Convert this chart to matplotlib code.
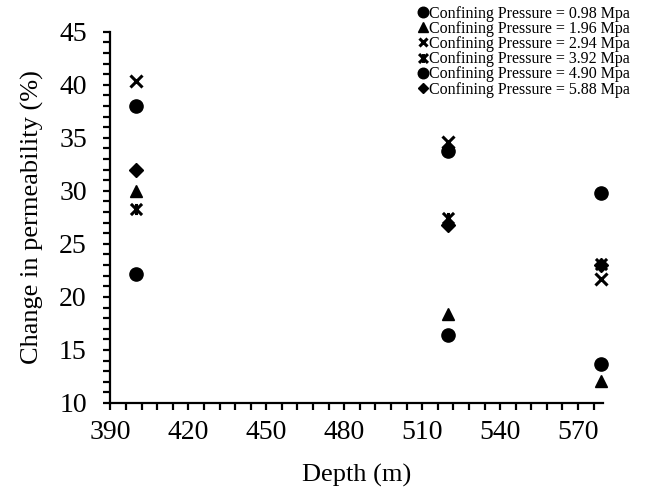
import numpy as np
import matplotlib
matplotlib.use("Agg")
import matplotlib.pyplot as plt
from matplotlib.path import Path
from matplotlib.ticker import MultipleLocator

plt.rcParams["font.family"] = ["Liberation Serif", "DejaVu Serif"]

# Data
depth = [400, 520, 579]
labels = [
    "Confining Pressure = 0.98 Mpa",
    "Confining Pressure = 1.96 Mpa",
    "Confining Pressure = 2.94 Mpa",
    "Confining Pressure = 3.92 Mpa",
    "Confining Pressure = 4.90 Mpa",
    "Confining Pressure = 5.88 Mpa",
]
cp_098 = [38.0, 33.8, 29.8]
cp_196 = [30.0, 18.4, 12.1]
cp_294 = [40.4, 34.6, 21.7]
cp_392 = [28.3, 27.4, 23.1]
cp_490 = [22.2, 16.4, 13.7]
cp_588 = [32.0, 26.8, 23.0]

# Excel-like "star" marker: an x with a vertical bar through it
star = Path(
    [(-1, -1), (1, 1), (-1, 1), (1, -1), (0, -1), (0, 1)],
    [Path.MOVETO, Path.LINETO, Path.MOVETO, Path.LINETO, Path.MOVETO, Path.LINETO],
)

series = [
    (cp_098, "o", 9.5, 1),
    (cp_196, "^", 9.0, 1),
    (cp_294, "x", 8.0, 2.2),
    (cp_392, star, 8.0, 2.2),
    (cp_490, "o", 9.5, 1),
    (cp_588, "D", 7.0, 1),
]

fig = plt.figure(figsize=(6.46, 4.96), dpi=100)
ax = fig.add_axes([0.171, 0.1875, 0.762, 0.7485])

for (vals, mk, ms, mew), lab in zip(series, labels):
    ax.plot(depth, vals, linestyle="none", marker=mk, markersize=ms,
            color="black", markeredgewidth=mew, label=lab, clip_on=False)

ax.set_xlim(390, 579.5)
ax.set_ylim(10, 45)
ax.xaxis.set_major_locator(MultipleLocator(30))
ax.xaxis.set_minor_locator(MultipleLocator(6))
ax.yaxis.set_major_locator(MultipleLocator(5))
ax.yaxis.set_minor_locator(MultipleLocator(1))

for s in ["top", "right"]:
    ax.spines[s].set_visible(False)
for s in ["left", "bottom"]:
    ax.spines[s].set_linewidth(1.6)

ax.tick_params(which="major", direction="out", length=5, width=1.6, labelsize=20)
ax.tick_params(axis="x", which="major", pad=7)
ax.tick_params(axis="y", which="major", pad=12)
ax.tick_params(which="minor", direction="out", length=5, width=1.6)

ax.set_xlabel("Depth (m)", fontsize=19, labelpad=14)
ax.set_ylabel("Change in permeability (%)", fontsize=19, labelpad=11)

leg = fig.legend(loc="upper right", bbox_to_anchor=(0.99, 1.008), frameon=False,
                 fontsize=11.5, handlelength=0.6, handletextpad=0.1,
                 labelspacing=-0.05, borderaxespad=0.2, markerscale=0.8)

fig.savefig("out.png", dpi=100)
